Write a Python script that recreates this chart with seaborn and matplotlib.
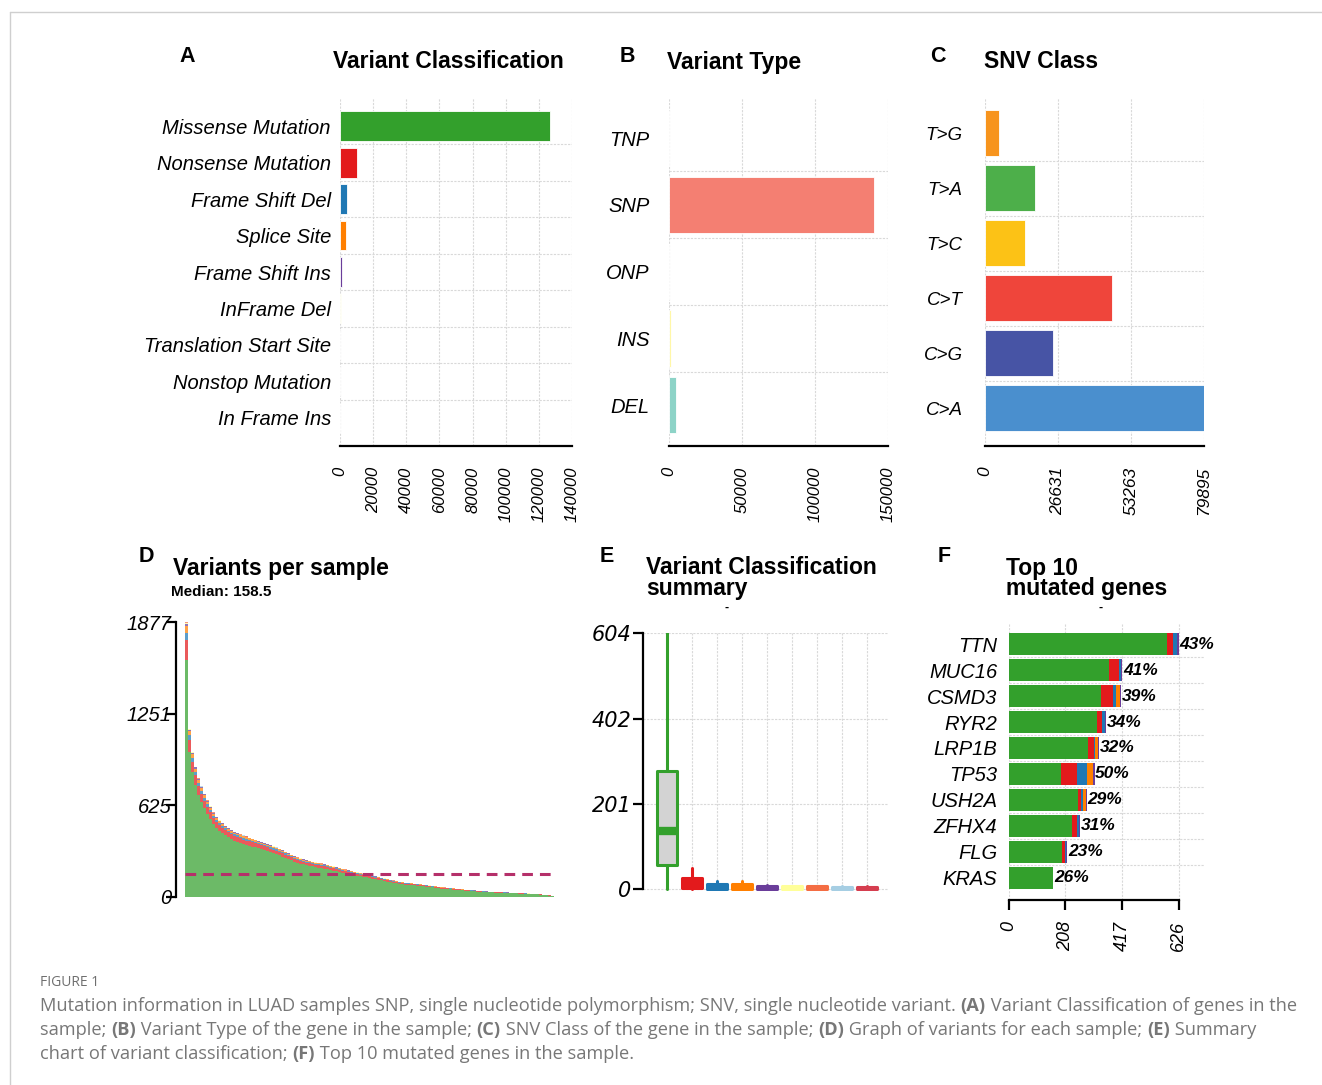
import numpy as np
import pandas as pd
import matplotlib
matplotlib.use("Agg")
import matplotlib.pyplot as plt
import seaborn as sns
from matplotlib.lines import Line2D

# ------------------------------------------------------------------ data
VC_LABELS = ["Missense Mutation", "Nonsense Mutation", "Frame Shift Del", "Splice Site",
             "Frame Shift Ins", "InFrame Del", "Translation Start Site",
             "Nonstop Mutation", "In Frame Ins"]
VC_COUNTS = [126700, 10500, 4000, 3500, 1300, 450, 300, 150, 60]
VC_TICKS = [0, 20000, 40000, 60000, 80000, 100000, 120000, 140000]
VC_COLORS = ["#33A02C", "#E31A1C", "#1F78B4", "#FF7F00", "#6A3D9A",
             "#FFFF99", "#F46D43", "#A6CEE3", "#D53E4F"]

VT_LABELS = ["TNP", "SNP", "ONP", "INS", "DEL"]
VT_COUNTS = [10, 140600, 40, 1400, 4800]
VT_TICKS = [0, 50000, 100000, 150000]
VT_COLORS = ["#80B1D3", "#F47F72", "#BEBADA", "#FFF7A8", "#8DD3C7"]

SNV_LABELS = ["T>G", "T>A", "T>C", "C>T", "C>G", "C>A"]
SNV_COUNTS = [5100, 18200, 14600, 46300, 24800, 79895]
SNV_TICKS = [0, 26631, 53263, 79895]
SNV_COLORS = ["#F7941D", "#4DAF4A", "#FCC216", "#EF453B", "#4754A5", "#4A8FCE"]

# variants per sample (sorted sample totals)
SAMPLE_TOTALS = [1877, 1150, 990, 890, 810, 755, 705, 660, 620, 578,
                 548, 525, 505, 488, 472, 458, 446, 437, 428, 420,
                 413, 406, 399, 392, 384, 377, 370, 362, 354, 346,
                 338, 330, 320, 310, 300, 290, 280, 270, 264, 258,
                 252, 247, 242, 237, 233, 229, 224, 219, 214, 209,
                 203, 198, 193, 188, 183, 178, 173, 168, 163, 159,
                 155, 150, 146, 141, 137, 132, 127, 122, 118, 113,
                 108, 104, 101, 98, 96, 94, 92, 90, 88, 85,
                 82, 79, 76, 73, 70, 67, 65, 63, 61, 59,
                 57, 55, 53, 51, 49, 47, 45, 43, 41, 40,
                 38, 37, 36, 35, 34, 33, 32, 31, 30, 29,
                 28, 27, 26, 25, 24, 23, 22, 21, 19, 17,
                 14, 11, 7, 3]
SAMPLE_MEDIAN = 158.5
D_TICKS = [0, 625, 1251, 1877]

# variant classification summary (box statistics per class)
BOX_LOW = [0, 0, 0, 0, 0, 0, 0, 0, 0]
BOX_Q1 = [57, 2, 1, 1, 0, 0, 0, 0, 0]
BOX_MED = [137, 10, 5, 5, 3, 2, 2, 1, 1]
BOX_Q3 = [279, 25, 11, 12, 7, 6, 6, 5, 5]
BOX_HIGH = [604, 49, 19, 19, 10, 8, 8, 7, 7]
E_TICKS = [0, 201, 402, 604]

# top 10 mutated genes
GENES = ["TTN", "MUC16", "CSMD3", "RYR2", "LRP1B", "TP53", "USH2A", "ZFHX4", "FLG", "KRAS"]
G_MISSENSE = [582, 368, 340, 324, 291, 193, 253, 232, 194, 162]
G_NONSENSE = [23, 37, 43, 20, 21, 59, 13, 20, 11, 0]
G_FSDEL = [15, 9, 12, 9, 6, 36, 6, 7, 4, 0]
G_SPLICE = [0, 0, 13, 0, 11, 21, 10, 0, 0, 0]
G_FSINS = [5, 3, 3, 5, 4, 6, 5, 4, 5, 0]
G_PCT = [43, 41, 39, 34, 32, 50, 29, 31, 23, 26]
F_TICKS = [0, 208, 417, 626]

# ------------------------------------------------------------------ style
sns.set_theme(style="white")
plt.rcParams["font.family"] = ["Liberation Sans", "DejaVu Sans"]
plt.rcParams["axes.unicode_minus"] = False
plt.rcParams["text.color"] = "black"
plt.rcParams["axes.labelcolor"] = "black"
plt.rcParams["xtick.color"] = "black"
plt.rcParams["ytick.color"] = "black"

W, H = 1322, 1085
fig = plt.figure(figsize=(W / 100, H / 100), dpi=100)
fig.patch.set_facecolor("white")

GRID = dict(color="#d9d9d9", lw=0.8, ls=(0, (2, 1.2)))


def add_ax(l, r, t, b):
    return fig.add_axes([l / W, 1 - b / H, (r - l) / W, (b - t) / H])


def ftext(x, y, s, **kw):
    kw.setdefault("va", "center")
    kw.setdefault("color", "black")
    return fig.text(x / W, 1 - y / H, s, **kw)


def hbar(ax, labels, counts, colors, ticks, ylim, width, lab_size, lab_pad, tick_size):
    df = pd.DataFrame({"label": labels, "count": counts})
    sns.barplot(data=df, x="count", y="label", hue="label", palette=colors,
                orient="h", width=width, saturation=1, legend=False, ax=ax,
                edgecolor="white", linewidth=0.6)
    ax.set_xlim(0, ticks[-1])
    ax.set_ylim(*ylim)
    ax.set_xticks(ticks)
    ax.set_xticklabels([str(t) for t in ticks], rotation=90, fontstyle="italic",
                       fontsize=tick_size, color="black")
    ax.set_yticks(range(len(labels)))
    ax.set_yticklabels(labels, fontstyle="italic", fontsize=lab_size, color="black")
    ax.set_yticks([i + 0.5 for i in range(len(labels) - 1)], minor=True)
    ax.tick_params(axis="y", which="both", length=0, pad=lab_pad)
    ax.tick_params(axis="x", length=7, width=1.6, pad=8, color="black")
    for s in ["top", "right", "left"]:
        ax.spines[s].set_visible(False)
    ax.spines["bottom"].set_linewidth(1.6)
    ax.spines["bottom"].set_color("black")
    ax.grid(axis="x", **GRID)
    ax.grid(axis="y", which="minor", **GRID)
    ax.set_axisbelow(True)
    ax.set_xlabel("")
    ax.set_ylabel("")


# ------------------------------------------------------------------ panel A
axA = add_ax(340, 572, 98, 446)
hbar(axA, VC_LABELS, VC_COUNTS, VC_COLORS, VC_TICKS, (8.77, -0.77), 0.82, 14.5, 6.5, 12)
# ------------------------------------------------------------------ panel B
axB = add_ax(669, 888, 98, 446)
hbar(axB, VT_LABELS, VT_COUNTS, VT_COLORS, VT_TICKS, (4.61, -0.6), 0.84, 14.5, 14, 12)
# ------------------------------------------------------------------ panel C
axC = add_ax(985, 1204, 98, 446)
hbar(axC, SNV_LABELS, SNV_COUNTS, SNV_COLORS, SNV_TICKS, (5.69, -0.64), 0.84, 13.5, 16, 12.5)

# ------------------------------------------------------------------ panel D
axD = add_ax(176, 557, 622, 897)
totals = np.array(SAMPLE_TOTALS, dtype=float)
shares = np.array(VC_COUNTS, dtype=float) / np.sum(VC_COUNTS)
xpos = np.arange(len(totals))
bottom = np.zeros_like(totals)
for share, col in zip(shares, VC_COLORS):
    h = totals * share
    axD.bar(xpos, h, bottom=bottom, width=1.0, color=col, alpha=0.72,
            linewidth=0, antialiased=False)
    bottom += h
axD.hlines(SAMPLE_MEDIAN, -0.5, len(totals) - 0.5, colors="#B5306A", lw=2.2,
           linestyles=[(0, (3.5, 2.3))], zorder=5)
axD.set_xlim(-3.5, len(totals) - 0.5)
axD.set_ylim(0, D_TICKS[-1])
axD.set_xticks([])
axD.set_yticks(D_TICKS)
axD.set_yticklabels([str(t) for t in D_TICKS], fontstyle="italic", fontsize=14.5,
                    color="black")
axD.tick_params(axis="y", length=7, width=1.6, pad=-3.6, color="black", left=True)
for s in ["top", "right", "bottom"]:
    axD.spines[s].set_visible(False)
axD.spines["left"].set_linewidth(1.6)
axD.spines["left"].set_color("black")
axD.spines["left"].set_bounds(0, D_TICKS[-1])
axD.patch.set_alpha(0)

# ------------------------------------------------------------------ panel E
axE = add_ax(643, 888, 633, 890.7)
stats = []
for i in range(len(VC_LABELS)):
    stats.append(dict(label=VC_LABELS[i], whislo=BOX_LOW[i], q1=BOX_Q1[i],
                      med=BOX_MED[i], q3=BOX_Q3[i], whishi=BOX_HIGH[i], fliers=[]))
pos = list(range(1, len(VC_LABELS) + 1))
bp = axE.bxp(stats, positions=pos, widths=0.8, patch_artist=True,
             showfliers=False, showcaps=False)
for i, col in enumerate(VC_COLORS):
    box = bp["boxes"][i]
    box.set_edgecolor(col)
    box.set_linewidth(2.2)
    box.set_facecolor("#D3D3D3" if i == 0 else col)
    box.set_joinstyle("round")
    bp["medians"][i].set_color(col)
    bp["medians"][i].set_linewidth(6 if i == 0 else 2)
    for wl in bp["whiskers"][2 * i:2 * i + 2]:
        wl.set_color(col)
        wl.set_linewidth(2.2)
axE.set_xlim(0.04, 9.84)
axE.set_ylim(-4, 604)
axE.set_xticks(pos)
axE.set_xticklabels([""] * len(pos))
axE.set_yticks(E_TICKS)
axE.set_yticklabels([str(t) for t in E_TICKS], fontstyle="italic", fontsize=15,
                    family=["DejaVu Sans"], color="black")
axE.tick_params(axis="y", length=7, width=1.6, pad=1.5, color="black", left=True)
axE.tick_params(axis="x", length=0)
for s in ["top", "right", "bottom"]:
    axE.spines[s].set_visible(False)
axE.spines["left"].set_linewidth(1.6)
axE.spines["left"].set_color("black")
axE.spines["left"].set_bounds(0, 604)
axE.grid(axis="both", **GRID)
axE.set_axisbelow(True)

# ------------------------------------------------------------------ panel F
axF = add_ax(1009, 1205, 623, 900)
layers = np.array([G_MISSENSE, G_NONSENSE, G_FSDEL, G_SPLICE, G_FSINS], dtype=float)
cum = np.cumsum(layers, axis=0)
layer_cols = [VC_COLORS[0], VC_COLORS[1], VC_COLORS[2], VC_COLORS[3], VC_COLORS[4]]
for k in reversed(range(layers.shape[0])):
    sns.barplot(x=cum[k], y=GENES, color=layer_cols[k], orient="h", width=0.85,
                saturation=1, ax=axF, linewidth=0)
for i, (tot, p) in enumerate(zip(cum[-1], G_PCT)):
    axF.text(tot + 3, i, f"{p}%", fontsize=12.5, fontweight="bold", fontstyle="italic",
             va="center", ha="left", color="black")
axF.set_xlim(0, 722)
axF.set_ylim(9.85, -0.81)
axF.set_xticks(F_TICKS)
axF.set_xticklabels([str(t) for t in F_TICKS], rotation=90, fontstyle="italic", fontsize=13,
                    color="black")
axF.set_yticks(range(len(GENES)))
axF.set_yticklabels(GENES, fontstyle="italic", fontsize=14.5, color="black")
axF.set_yticks([i + 0.5 for i in range(len(GENES) - 1)], minor=True)
axF.tick_params(axis="y", which="both", length=0, pad=8.5)
axF.tick_params(axis="x", length=7, width=1.6, pad=8, color="black", bottom=True)
for s in ["top", "right", "left"]:
    axF.spines[s].set_visible(False)
axF.spines["bottom"].set_linewidth(1.6)
axF.spines["bottom"].set_color("black")
axF.spines["bottom"].set_bounds(0, F_TICKS[-1])
axF.grid(axis="x", **GRID)
axF.grid(axis="y", which="minor", **GRID)
axF.set_axisbelow(True)
axF.set_xlabel("")
axF.set_ylabel("")

# ------------------------------------------------------------------ titles
LET = dict(fontsize=15.5, fontweight="bold", ha="center")
TIT = dict(fontsize=16.5, fontweight="bold", ha="left")
ftext(187, 56, "A", **LET)
ftext(627, 56, "B", **LET)
ftext(938, 56, "C", **LET)
ftext(146, 556, "D", **LET)
ftext(607, 556, "E", **LET)
ftext(944, 556, "F", **LET)
ftext(333, 62, "Variant Classification", **TIT)
ftext(667, 62, "Variant Type", **TIT)
ftext(984, 61, "SNV Class", **TIT)
ftext(173, 568, "Variants per sample", **TIT)
ftext(171, 592, f"Median: {SAMPLE_MEDIAN}", fontsize=11, fontweight="bold", ha="left")
ftext(646, 568, "Variant Classification", **TIT)
ftext(646, 589, "summary", **TIT)
ftext(727, 608, "-", fontsize=9, fontweight="bold", ha="center")
ftext(1006, 568, "Top 10", **TIT)
ftext(1006, 589, "mutated genes", **TIT)
ftext(1101, 608, "-", fontsize=9, fontweight="bold", ha="center")

# ------------------------------------------------------------------ frame
fig.add_artist(Line2D([10 / W, 10 / W], [1 - 12 / H, 0], transform=fig.transFigure,
                      color="#cfcfcf", lw=1))
fig.add_artist(Line2D([10 / W, 1], [1 - 12 / H, 1 - 12 / H], transform=fig.transFigure,
                      color="#cfcfcf", lw=1))

# ------------------------------------------------------------------ caption
CAP_FONT = ["Open Sans", "DejaVu Sans"]
CAP_COL = "#777777"
renderer = fig.canvas.get_renderer()


def seg_width(s, size, bold):
    kw = dict(fontsize=size, fontweight="bold" if bold else "normal", family=CAP_FONT)
    t1 = fig.text(0, 0, "x" + s + "x", **kw)
    t2 = fig.text(0, 0, "xx", **kw)
    w = t1.get_window_extent(renderer).width - t2.get_window_extent(renderer).width
    t1.remove()
    t2.remove()
    return w


CAPTION = [
    [("Mutation information in LUAD samples SNP, single nucleotide polymorphism; SNV, single nucleotide variant. ", False),
     ("(A)", True), (" Variant Classification of genes in the", False)],
    [("sample; ", False), ("(B)", True), (" Variant Type of the gene in the sample; ", False),
     ("(C)", True), (" SNV Class of the gene in the sample; ", False), ("(D)", True),
     (" Graph of variants for each sample; ", False), ("(E)", True), (" Summary", False)],
    [("chart of variant classification; ", False), ("(F)", True),
     (" Top 10 mutated genes in the sample.", False)],
]
base = 12.0
w1 = sum(seg_width(s, base, b) for s, b in CAPTION[0])
cap_size = base * 1258.0 / w1

ftext(40, 983, "FIGURE 1", fontsize=10, color="#6f6f6f", ha="left", family=CAP_FONT)
for line, y in zip(CAPTION, [1006, 1030, 1054]):
    x = 40.0
    for s, b in line:
        ftext(x, y, s, fontsize=cap_size, fontweight="bold" if b else "normal",
              color=CAP_COL, ha="left", family=CAP_FONT)
        x += seg_width(s, cap_size, b)

fig.savefig("out.png", dpi=100, facecolor="white")
